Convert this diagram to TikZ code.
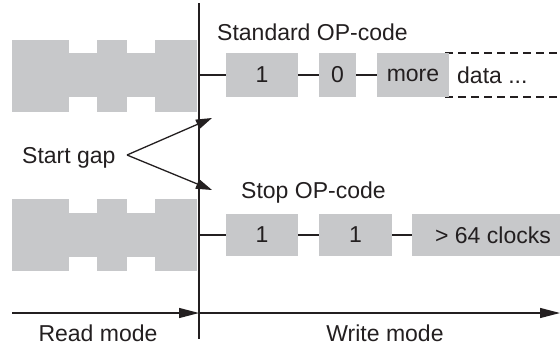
\documentclass[tikz,border=0pt]{standalone}
\usepackage{fontspec}
\setmainfont{Liberation Sans}
\usetikzlibrary{arrows.meta}
\definecolor{boxgray}{RGB}{199,200,202}
\definecolor{ink}{RGB}{35,31,32}
\begin{document}
\begin{tikzpicture}[x=1pt,y=-1pt,
  txt/.style={font=\fontsize{23}{27}\selectfont, text=ink, inner sep=0pt},
  gbox/.style={fill=boxgray, inner sep=0pt, font=\fontsize{23}{27}\selectfont, text=ink},
  ln/.style={draw=ink, line width=1.3pt},
  conn/.style={draw=ink, line width=1.1pt},
  arr/.style={ln, -{Triangle[length=20pt,width=10pt]}},
  sarr/.style={ln, -{Triangle[length=16pt,width=10pt]}}]
\useasboundingbox (0,0) rectangle (560,346);
% gray read-mode shapes
\fill[boxgray] (12,53) rectangle (197,97);
\fill[boxgray] (12,40) rectangle (69,112);
\fill[boxgray] (97,40) rectangle (127,112);
\fill[boxgray] (155,40) rectangle (197,112);
\fill[boxgray] (12,213) rectangle (197,257);
\fill[boxgray] (12,199) rectangle (69,271);
\fill[boxgray] (97,199) rectangle (127,271);
\fill[boxgray] (155,199) rectangle (197,271);
% vertical divider
\coordinate (vtop) at (199,3);
\coordinate (vbot) at (199,339);
\draw[ln] (vtop) -- (vbot);
\coordinate (ta) at (199,75);
\coordinate (ba) at (199,235);
% top row
\draw[conn, dash pattern=on 8pt off 5pt] (445,53) -- (565,53) (445,97) -- (565,97) (445,53) -- (445,97);
\node[gbox, minimum width=72pt, minimum height=44pt] (t1) at (262,75) {1};
\node[gbox, minimum width=37pt, minimum height=44pt] (t0) at (337.5,75) {0};
\node[gbox, minimum width=72pt, minimum height=44pt] (tm) at (413,75) {more};
\node[txt, anchor=base west] (td) at (457,83) {data ...};
\draw[conn] (ta) -- (t1.west);
\draw[conn] (t1.east) -- (t0.west);
\draw[conn] (t0.east) -- (tm.west);
\node[txt, anchor=base west] (std) at (217,40) {Standard OP-code};
% bottom row
\node[gbox, minimum width=72pt, minimum height=42pt] (b1) at (262,235) {1};
\node[gbox, minimum width=73pt, minimum height=42pt] (b2) at (355.5,235) {1};
\node[fill=boxgray, inner sep=0pt, minimum width=150pt, minimum height=42pt, anchor=west] (bc) at (412,235) {};
\node[txt] (bct) at (493,235) {> 64 clocks};
\draw[conn] (ba) -- (b1.west);
\draw[conn] (b1.east) -- (b2.west);
\draw[conn] (b2.east) -- (bc.west);
\node[txt, anchor=base west] (stop) at (241,198) {Stop OP-code};
% start gap
\node[txt, anchor=base west] (sg) at (22,163) {Start gap};
\coordinate (v) at (127,155);
\coordinate (up) at (212,118);
\coordinate (dn) at (212,190);
\draw[sarr] (v) -- (up);
\draw[sarr] (v) -- (dn);
% axis
\coordinate (a0) at (12,313);
\coordinate (am) at (199,313);
\coordinate (a1) at (560,313);
\draw[arr] (a0) -- (am);
\draw[arr] (am) -- (a1);
\node[txt, anchor=base] (rm) at (98,341) {Read mode};
\node[txt, anchor=base] (wm) at (385,341) {Write mode};
\end{tikzpicture}
\end{document}
